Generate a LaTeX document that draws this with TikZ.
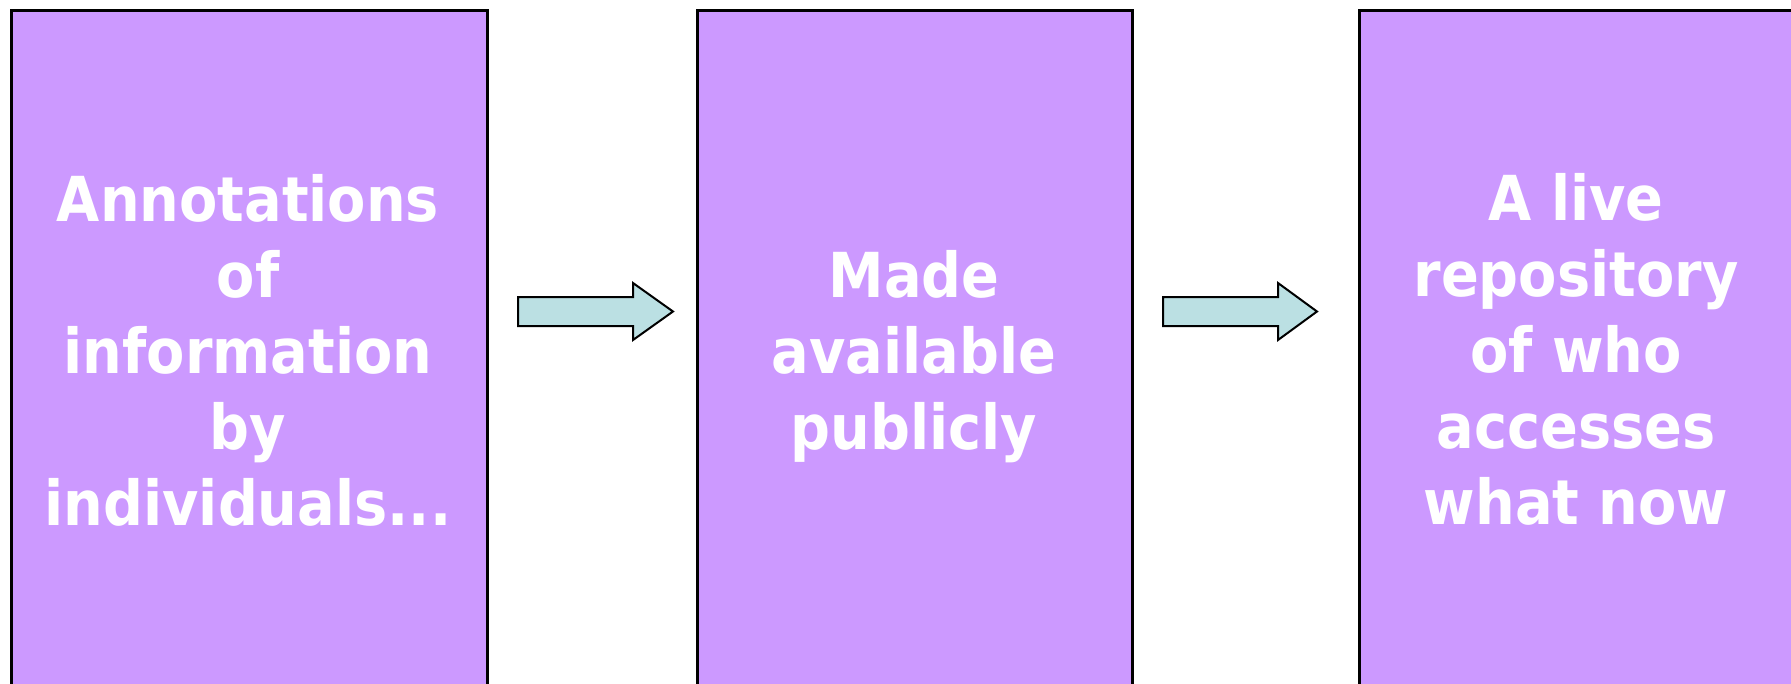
\documentclass[tikz,border=0pt]{standalone}
\usepackage{fontspec}
\newfontfamily\boxfont{DejaVu Sans Condensed}
\definecolor{boxfill}{HTML}{CC99FF}
\definecolor{arrowfill}{HTML}{BBE0E3}
\begin{document}
\begin{tikzpicture}[x=1pt,y=-1pt,
  stagebox/.style={draw=black, line width=3pt, fill=boxfill, anchor=north west, inner sep=0pt},
  stagetext/.style={text=white, align=center, inner sep=0pt, font=\boxfont\bfseries\fontsize{62}{76}\selectfont},
  blockarrow/.style={draw=black, line width=2pt, fill=arrowfill, line join=miter}]
\useasboundingbox (0,0) rectangle (1791,683);
\clip (0,0) rectangle (1791,683);
\node[stagebox, minimum width=476pt, minimum height=720pt] (b1) at (10,9) {};
\node[stagebox, minimum width=435pt, minimum height=720pt] (b2) at (696,9) {};
\node[stagebox, minimum width=436pt, minimum height=720pt] (b3) at (1358,9) {};
\node[stagetext] (t1) at (248,350) {Annotations\\of\\information\\by\\individuals...};
\node[stagetext] (t2) at (914,357) {Made\\available\\publicly};
\node[stagetext] (t3) at (1576,349) {A live\\repository\\of who\\accesses\\what now};
\draw[blockarrow] (518,297) -- (633,297) -- (633,283) -- (673,311.5) -- (633,340) -- (633,326) -- (518,326) -- cycle;
\draw[blockarrow] (1163,297) -- (1278,297) -- (1278,283) -- (1317,311.5) -- (1278,340) -- (1278,326) -- (1163,326) -- cycle;
\end{tikzpicture}
\end{document}
